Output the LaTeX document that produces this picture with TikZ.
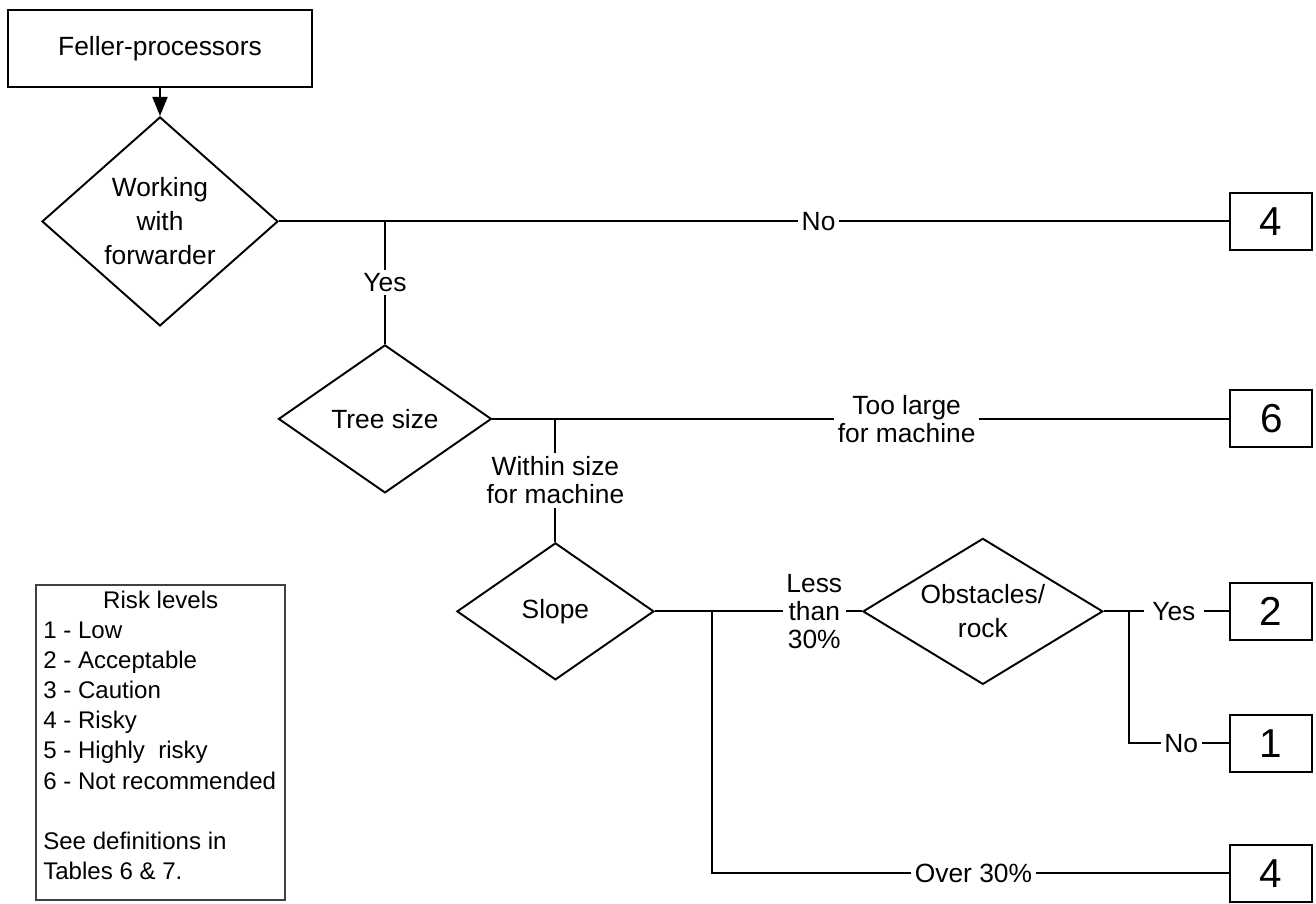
\documentclass[tikz,border=0pt]{standalone}
\usepackage{fontspec}
\setmainfont{Liberation Sans}
\usetikzlibrary{positioning,shapes.geometric,arrows.meta}
\begin{document}
\begin{tikzpicture}[node distance=0.56cm, line width=1.1pt,
   startbox/.style={draw, minimum width=6.08cm, minimum height=1.54cm, font=\fontsize{15}{18}\selectfont},
   decision/.style={draw, diamond, inner sep=0pt, align=center, font=\fontsize{15}{19.3}\selectfont},
   riskbox/.style={draw, minimum width=1.64cm, minimum height=1.14cm, inner sep=0pt, font=\fontsize{23}{26}\selectfont},
   tag/.style={fill=white, inner sep=2pt, align=center, font=\fontsize{15}{16}\selectfont}]
   \useasboundingbox (0,0) rectangle (26.32,-18.06);
   \node (0) [startbox] at (3.2,-0.97) {Feller-processors};
   \node (1) [decision, minimum width=4.72cm, minimum height=4.18cm, below=of 0] {Working\\with\\forwarder};
   \node (2) [riskbox, right=19cm of 1] {4};
   \coordinate (1f) at ([xshift=2.12cm]1.east);
   \node (3) [decision, minimum width=4.26cm, minimum height=2.96cm, aspect=1.44, below=2.45cm of 1f] {Tree size};
   \node (4) [riskbox, right=14.74cm of 3] {6};
   \coordinate (3f) at ([xshift=1.26cm]3.east);
   \node (5) [decision, minimum width=3.94cm, minimum height=2.74cm, aspect=1.44, below=2.46cm of 3f] {Slope};
   \coordinate (5f) at ([xshift=1.14cm]5.east);
   \node (6) [decision, minimum width=4.8cm, minimum height=2.92cm, aspect=1.65, right=3cm of 5f] {Obstacles/\\rock};
   \node (7) [riskbox, right=2.5cm of 6] {2};
   \coordinate (6f) at ([xshift=0.5cm]6.east);
   \node (8) [riskbox, below=1.46cm of 7] {1};
   \node (9) [riskbox, below=1.42cm of 8] {4};
   \node (10) [draw=black!75, line width=0.8pt, minimum width=4.98cm, minimum height=6.3cm] at (3.21,-14.85) {};
   \node (11) [anchor=north west, align=left, inner sep=0pt, font=\fontsize{13.7}{17.1}\selectfont]
      at ([xshift=0.14cm, yshift=-0.12cm]10.north west)
      {\makebox[4.7cm]{Risk levels}\\1 - Low\\2 - Acceptable\\3 - Caution\\4 - Risky\\5 - Highly\ \ risky\\6 - Not recommended\\[0.6cm]See definitions in\\Tables 6 \& 7.};
   \draw [-{Triangle[length=0.38cm,width=0.3cm]}] (0) -- (1);
   \draw (1) -- node (1n) [tag, pos=0.568] {No} (2);
   \draw (1f) -- node (1y) [tag] {Yes} (3);
   \draw (3) -- node (3n) [tag, pos=0.562] {Too large\\for machine} (4);
   \draw (3f) -- node (3y) [tag] {Within size\\for machine} (5);
   \draw (5) -- node (5y) [tag, pos=0.77] {Less\\than\\30\%} (6);
   \draw (5f) |- node (5n) [tag, pos=0.753] {Over 30\%} (9);
   \draw (6) -- node (6y) [tag, pos=0.56, inner xsep=5pt] {Yes} (7);
   \draw (6f) |- node (6n) [tag, pos=0.762] {No} (8);
\end{tikzpicture}
\end{document}
